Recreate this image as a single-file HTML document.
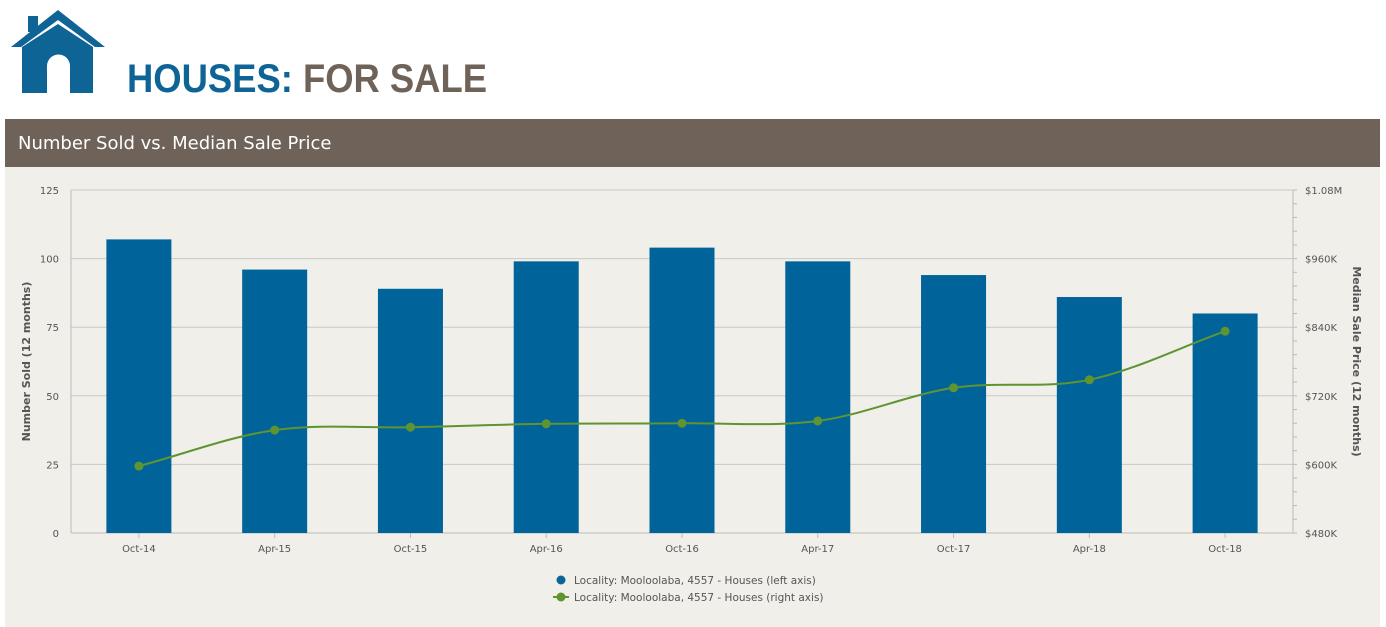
<!DOCTYPE html>
<html><head><meta charset="utf-8"><style>
body{margin:0;width:1386px;height:627px;background:#fff;overflow:hidden;font-family:"Liberation Sans","DejaVu Sans",sans-serif}
</style></head><body>
<svg width="1386" height="627" xmlns="http://www.w3.org/2000/svg" style="position:absolute;left:0;top:0">
<g>
 <rect x="28" y="16" width="10" height="16" fill="#0f6496"/>
 <polygon points="58,10 105,47 95,47 58,20 21,47 11,47" fill="#0f6496"/>
 <path d="M22,47 L58,24 L93,47 L93,93 L70,93 L70,66 A11.5,11.5 0 0 0 47,66 L47,93 L22,93 Z" fill="#0f6496"/>
</g>
<text x="127" y="92" font-size="40" font-weight="bold" textLength="360" lengthAdjust="spacingAndGlyphs"><tspan fill="#0f6496">HOUSES: </tspan><tspan fill="#6e6259">FOR SALE</tspan></text>
<rect x="5" y="119" width="1375" height="48" fill="#6e6259"/>
<text x="18" y="149" font-size="18" fill="#fff" font-family="DejaVu Sans, sans-serif">Number Sold vs. Median Sale Price</text>
<rect x="5" y="167" width="1375" height="460" fill="#f0efea"/>
<g id="chart" font-family="DejaVu Sans, sans-serif"></g>
<g font-family="DejaVu Sans, sans-serif" font-size="10.5" fill="#555">
 <circle cx="561" cy="580" r="4.5" fill="#0f6496"/>
 <text x="574" y="584">Locality: Mooloolaba, 4557 - Houses (left axis)</text>
 <line x1="553" y1="597" x2="569" y2="597" stroke="#5f9431" stroke-width="2"/>
 <circle cx="561" cy="597" r="4.5" fill="#5f9431"/>
 <text x="574" y="601">Locality: Mooloolaba, 4557 - Houses (right axis)</text>
</g>
</svg>
<script>
const categories=["Oct-14","Apr-15","Oct-15","Apr-16","Oct-16","Apr-17","Oct-17","Apr-18","Oct-18"];
const soldValues=[107,96,89,99,104,99,94,86,80];
const priceValues=[597,660,665,671,672,676,734,748,833];
const leftTicks=[0,25,50,75,100,125];
const rightTickLabels=["$480K","$600K","$720K","$840K","$960K","$1.08M"];
const rightTickValues=[480,600,720,840,960,1080];
const NS="http://www.w3.org/2000/svg";
const g=document.getElementById('chart');
const X0=71,X1=1293,Y0=533,Y1=190;
const bw=(X1-X0)/categories.length;
const xC=i=>X0+bw*(i+0.5);
const yL=v=>Y0-(v-0)/(125-0)*(Y0-Y1);
const yR=v=>Y0-(v-480)/(1080-480)*(Y0-Y1);
function mk(t,a){const e=document.createElementNS(NS,t);for(const k in a)e.setAttribute(k,a[k]);g.appendChild(e);return e;}
leftTicks.forEach(v=>{
 const l=mk('line',{x1:X0,x2:X1,y1:yL(v),y2:yL(v),stroke:v===0?'#bbb':'#c8c8c8','stroke-width':1});
 
 
 const t=mk('text',{x:X0-12,y:yL(v)+4,'text-anchor':'end','font-size':10,fill:'#555'});
 t.textContent=v;
 
 
});
rightTickValues.forEach((v,i)=>{
 const t=mk('text',{x:X1+12,y:yR(v)+4,'font-size':10,fill:'#555'});
 t.textContent=rightTickLabels[i];
 
 
});
for(let v=480;v<=1080;v+=24){mk('line',{x1:X1,x2:X1+4,y1:yR(v),y2:yR(v),stroke:'#bbb'});}
mk('line',{x1:X0,x2:X0,y1:Y1,y2:Y0,stroke:'#bbb'});
mk('line',{x1:X1,x2:X1,y1:Y1,y2:Y0,stroke:'#bbb'});
const ly=mk('text',{x:0,y:0,'font-size':11,'font-weight':'bold',fill:'#555','text-anchor':'middle',transform:`translate(30,${(Y0+Y1)/2}) rotate(-90)`});
ly.textContent='Number Sold (12 months)';


const ry=mk('text',{x:0,y:0,'font-size':11,'font-weight':'bold',fill:'#555','text-anchor':'middle',transform:`translate(1353,${(Y0+Y1)/2}) rotate(90)`});
ry.textContent='Median Sale Price (12 months)';


categories.forEach((c,i)=>{
 const b=mk('rect',{x:xC(i)-32.5,y:yL(soldValues[i]),width:65,height:Y0-yL(soldValues[i]),fill:'#00639a'});
 
 
 mk('line',{x1:xC(i),x2:xC(i),y1:Y0,y2:Y0+5,stroke:'#bbb'});
 const t=mk('text',{x:xC(i),y:Y0+19,'text-anchor':'middle','font-size':10,fill:'#555'});
 t.textContent=c;
 
 
});
// monotone cubic path
const pts=priceValues.map((v,i)=>[xC(i),yR(v)]);
const n=pts.length,d=[],m=[];
for(let i=0;i<n-1;i++)d.push((pts[i+1][1]-pts[i][1])/(pts[i+1][0]-pts[i][0]));
for(let i=0;i<n;i++){if(i===0)m.push(d[0]);else if(i===n-1)m.push(d[n-2]);else m.push(d[i-1]*d[i]<=0?0:(d[i-1]+d[i])/2);}
let p=`M${pts[0][0]},${pts[0][1]}`;
for(let i=0;i<n-1;i++){const h=(pts[i+1][0]-pts[i][0])/3;
 p+=` C${pts[i][0]+h},${pts[i][1]+m[i]*h} ${pts[i+1][0]-h},${pts[i+1][1]-m[i+1]*h} ${pts[i+1][0]},${pts[i+1][1]}`;}
const line=mk('path',{d:p,fill:'none',stroke:'#5f9431','stroke-width':2});


pts.forEach((q,i)=>{
 const c=mk('circle',{cx:q[0],cy:q[1],r:4.5,fill:'#5f9431'});
 
 
});
</script>
</body></html>
